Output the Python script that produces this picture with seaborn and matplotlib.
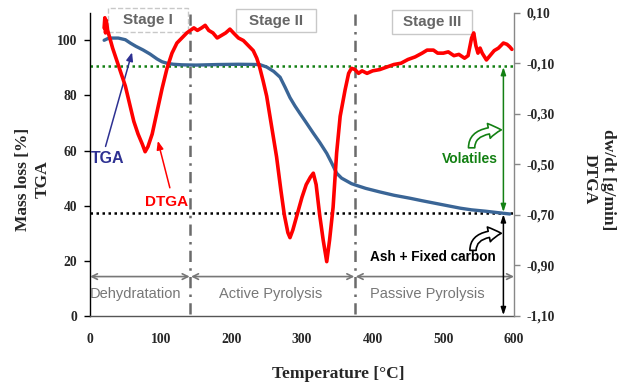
import numpy as np
import pandas as pd
import matplotlib
matplotlib.use("Agg")
import matplotlib.pyplot as plt
from matplotlib.patches import Rectangle
import seaborn as sns

# ---------------- data ----------------
tga_temp = [20, 25, 30, 40, 50, 57, 65, 75, 85, 95, 102, 110, 118, 130, 150, 180, 210,
            240, 250, 260, 269, 276, 283, 290, 297, 305, 316, 325, 335, 342, 349, 356,
            363, 370, 378, 390, 410, 430, 453, 470, 490, 510, 524, 540, 560, 580, 594]
tga_mass = [100.0, 100.6, 100.8, 100.8, 100.2, 99.0, 97.8, 96.5, 95.0, 93.2, 92.2, 91.6,
            91.3, 91.1, 91.0, 91.2, 91.3, 91.2, 90.3, 88.7, 86.6, 83.0, 79.2, 76.2, 73.5,
            70.5, 66.3, 63.0, 59.0, 55.5, 51.8, 50.0, 49.0, 48.0, 47.3, 46.3, 45.0, 43.8,
            42.7, 41.8, 40.8, 39.8, 39.1, 38.5, 38.0, 37.4, 37.0]

dtga_temp = [20, 21, 22, 23, 25, 28, 32, 38, 44, 50, 56, 62, 68, 74, 78, 82, 88, 95,
             102, 109, 116, 123, 130, 137, 142, 147, 152, 158, 163, 168, 174, 180, 186,
             192, 198, 203, 210, 217, 224, 231, 236, 240, 245, 250, 257, 264, 270, 275,
             280, 283, 287, 293, 300, 306, 312, 316, 320, 325, 330, 335, 339, 344, 349,
             354, 361, 366, 370, 375, 380, 385, 392, 400, 410, 420, 430, 440, 450, 460,
             470, 477, 486, 492, 500, 507, 515, 522, 530, 535, 540, 543, 546, 549, 552,
             555, 561, 566, 572, 578, 585, 590, 594, 597]
dtga_rate = [0.04, 0.08, 0.02, 0.07, 0.03, 0.0, -0.04, -0.09, -0.14, -0.19, -0.26, -0.33,
             -0.38, -0.42, -0.45, -0.43, -0.38, -0.29, -0.20, -0.12, -0.06, -0.02, 0.0,
             0.02, 0.03, 0.04, 0.03, 0.04, 0.05, 0.03, 0.02, 0.0, 0.01, 0.02, 0.035, 0.02,
             0.0, -0.01, -0.03, -0.05, -0.08, -0.115, -0.17, -0.23, -0.35, -0.47, -0.60,
             -0.70, -0.77, -0.79, -0.76, -0.70, -0.63, -0.58, -0.55, -0.535, -0.58, -0.70,
             -0.80, -0.885, -0.80, -0.67, -0.455, -0.31, -0.205, -0.14, -0.12, -0.125,
             -0.14, -0.13, -0.14, -0.13, -0.125, -0.115, -0.105, -0.10, -0.085, -0.075,
             -0.06, -0.048, -0.048, -0.06, -0.06, -0.055, -0.07, -0.065, -0.08, -0.07,
             0.0, 0.02, -0.03, -0.06, -0.04, -0.06, -0.087, -0.07, -0.05, -0.04, -0.02,
             -0.025, -0.035, -0.045]

x_ticks = [0, 100, 200, 300, 400, 500, 600]
left_ticks = [0, 20, 40, 60, 80, 100]
right_ticks = [0.10, -0.10, -0.30, -0.50, -0.70, -0.90, -1.10]
right_tick_labels = ["0,10", "-0,10", "-0,30", "-0,50", "-0,70", "-0,90", "-1,10"]

stage_bounds = [0, 142, 375, 600]
stage_names = ["Dehydratation", "Active Pyrolysis", "Passive Pyrolysis"]
stage_titles = ["Stage I", "Stage II", "Stage III"]
volatiles_level = 90.6
ash_level = 37.3

# ---------------- style ----------------
sns.set_style("white")
plt.rcParams['font.family'] = ['Liberation Serif', 'DejaVu Serif']

fig = plt.figure(figsize=(6.26, 3.86), dpi=100)
ax = fig.add_axes([90 / 626, 70 / 386, 424 / 626, 303.3 / 386])
ax2 = ax.twinx()

tga_df = pd.DataFrame({"T": tga_temp, "M": tga_mass})
dtga_df = pd.DataFrame({"T": dtga_temp, "D": dtga_rate})

sans = ['Liberation Sans', 'DejaVu Sans']

# reference lines
ax.axhline(volatiles_level, color="#138013", lw=1.8, ls=(0, (1, 1.4)), zorder=1)
ax.axhline(ash_level, color="black", lw=1.8, ls=(0, (1, 1.4)), zorder=1)
for b in stage_bounds[1:3]:
    ax.plot([b, b], [0.8, 110], color="#6b6b6b", lw=1.8,
            ls=(0, (4.5, 2.5, 1, 2.5)), zorder=1)

sns.lineplot(data=tga_df, x="T", y="M", ax=ax, color="#3A6596", lw=2.4, zorder=3)
sns.lineplot(data=dtga_df, x="T", y="D", ax=ax2, color="#FF0000", lw=2.6, zorder=3)

ax.set_xlim(0, 600)
ax.set_ylim(0, 110)
ax2.set_ylim(-1.1, 0.1)
ax.set_xticks(x_ticks)
ax.set_yticks(left_ticks)
ax2.set_yticks(right_ticks)
ax2.set_yticklabels(right_tick_labels)

for lab in ax.get_xticklabels() + ax.get_yticklabels() + ax2.get_yticklabels():
    lab.set_fontsize(9.8)
    lab.set_fontweight("bold")

ax.tick_params(axis="x", direction="out", length=4, width=1, pad=8, color="#555555")
ax.tick_params(axis="y", direction="out", length=4, width=1, pad=5, color="black")
ax2.tick_params(axis="y", direction="out", length=4, width=1, pad=5, color="#888888")

ax.spines["top"].set_visible(False)
ax2.spines["top"].set_visible(False)
ax.spines["left"].set_color("black")
ax.spines["bottom"].set_color("#555555")
ax2.spines["right"].set_color("#888888")
ax2.spines["left"].set_visible(False)
ax2.spines["bottom"].set_visible(False)
ax.spines["right"].set_visible(False)
for sp in ax.spines.values():
    sp.set_linewidth(1.0)
ax2.spines["right"].set_linewidth(1.0)

ax.set_xlabel("Temperature [°C]", fontsize=12.5, fontweight="bold", va="center")
ax.xaxis.set_label_coords(0.585, -0.19)
ax.set_ylabel("Mass loss [%]\nTGA", fontsize=12.5, fontweight="bold", va="center",
              linespacing=1.25)
ax.yaxis.set_label_coords(-0.135, 0.45)
ax2.set_ylabel("dw/dt [g/min]\nDTGA", fontsize=12.5, fontweight="bold", va="center",
               rotation=270, linespacing=1.25)
ax2.yaxis.set_label_coords(1.2, 0.45)

# stage arrows and names
for i in range(3):
    x0 = stage_bounds[i] + (1 if i > 0 else 0)
    x1 = stage_bounds[i + 1] - (1 if i < 2 else 0)
    ax.annotate("", xy=(x0, 14.3), xytext=(x1, 14.3),
                arrowprops=dict(arrowstyle="<->", color="#777777", lw=1.2,
                                shrinkA=0, shrinkB=0), annotation_clip=False)
name_x = [65, 255, 478]
for nx, nm in zip(name_x, stage_names):
    ax.text(nx, 7.8, nm, ha="center", va="center", fontsize=10.5, color="#777777",
            family=sans)

# stage title boxes
boxes = [(25.5, 138.7, 102.9, 111.6, "--"), (206.6, 319.8, 102.9, 111.2, "-"),
         (427.5, 540.7, 102.2, 110.9, "-")]
for (bx0, bx1, by0, by1, ls), title in zip(boxes, stage_titles):
    ax.add_patch(Rectangle((bx0, by0), bx1 - bx0, by1 - by0, fc="white", ec="#c8c8c8",
                           lw=1.0, ls=ls, clip_on=False, zorder=4))
    ax.text((bx0 + bx1) / 2, (by0 + by1) / 2, title, ha="center", va="center",
            fontsize=11, fontweight="bold", color="#666666", family=sans, zorder=5,
            clip_on=False)

# curve labels
ax.text(25, 57, "TGA", color="#2E3192", fontsize=11.5, fontweight="bold", family=sans,
        ha="center", va="center", zorder=6)
ax.annotate("", xy=(59.5, 95.6), xytext=(22, 61.5),
            arrowprops=dict(arrowstyle="-|>,head_width=0.2,head_length=0.5",
                            color="#2E3192", lw=1.1, shrinkA=0, shrinkB=0))
ax.text(109, 41.3, "DTGA", color="#FF0000", fontsize=11, fontweight="bold", family=sans,
        ha="center", va="center", zorder=6)
ax.annotate("", xy=(96, 63.5), xytext=(113, 46.5),
            arrowprops=dict(arrowstyle="-|>,head_width=0.2,head_length=0.5",
                            color="#FF0000", lw=1.1, shrinkA=0, shrinkB=0))

# volatiles and ash arrows
ax.annotate("", xy=(585, volatiles_level - 0.3), xytext=(585, ash_level + 0.4),
            arrowprops=dict(arrowstyle="<|-|>,head_width=0.15,head_length=0.45",
                            color="#138013", lw=1.1, shrinkA=0, shrinkB=0), zorder=5)
ax.annotate("", xy=(585, ash_level - 0.4), xytext=(585, 0.3),
            arrowprops=dict(arrowstyle="<|-|>,head_width=0.15,head_length=0.45",
                            color="black", lw=1.1, shrinkA=0, shrinkB=0), zorder=5)
ax.text(537, 57, "Volatiles", color="#138013", fontsize=10, fontweight="bold",
        family=sans, ha="center", va="center")
ax.text(485, 21.4, "Ash + Fixed carbon", color="black", fontsize=9.8, fontweight="bold",
        family=sans, ha="center", va="center")

# bent hollow arrows
ax.annotate("", xy=(582, 67.5), xytext=(540, 61.0),
            arrowprops=dict(arrowstyle="simple,head_width=0.6,head_length=0.5,tail_width=0.25",
                            connectionstyle="angle3,angleA=90,angleB=0",
                            fc="white", ec="#138013", lw=1.2, shrinkA=0, shrinkB=0,
                            mutation_scale=18))
ax.annotate("", xy=(582, 30.0), xytext=(542, 23.8),
            arrowprops=dict(arrowstyle="simple,head_width=0.6,head_length=0.5,tail_width=0.25",
                            connectionstyle="angle3,angleA=90,angleB=0",
                            fc="white", ec="black", lw=1.2, shrinkA=0, shrinkB=0,
                            mutation_scale=18))

fig.savefig("out.png", dpi=100)
